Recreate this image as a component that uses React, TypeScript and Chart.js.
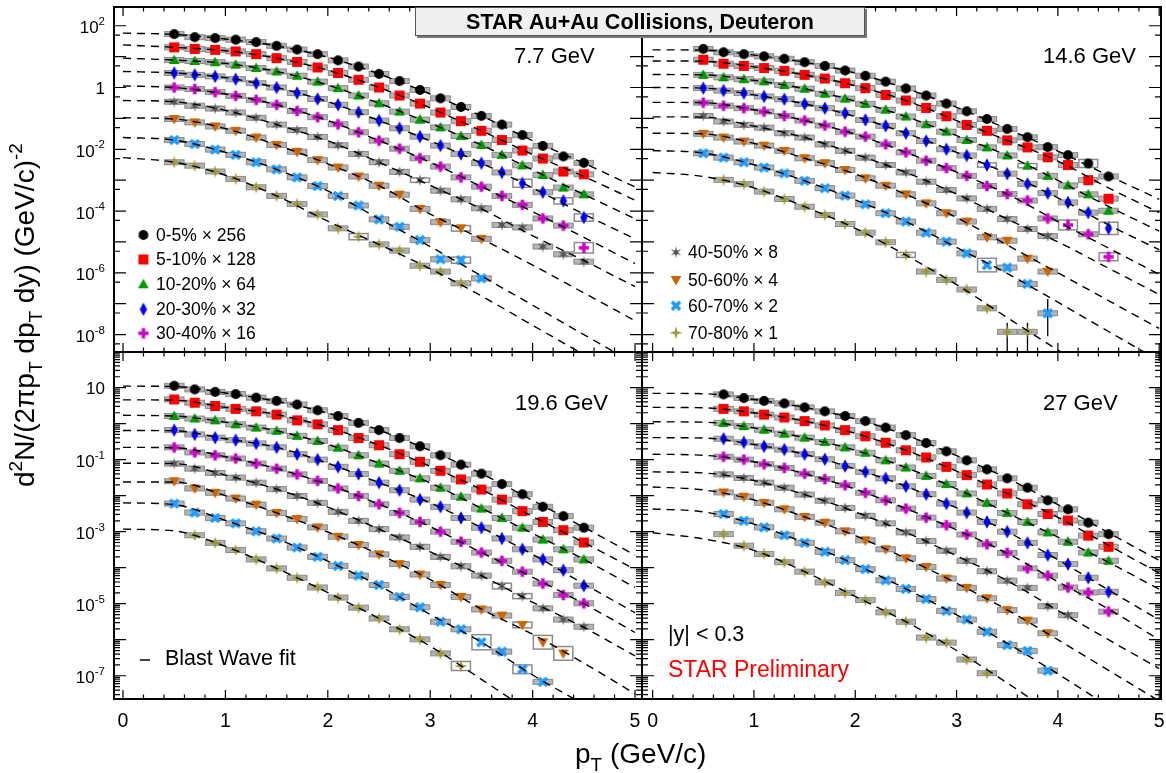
import React, { useEffect, useRef } from 'react';
import { Chart, registerables } from 'chart.js';

Chart.register(...registerables);

const FONT = '"Liberation Sans", Arial, Helvetica, sans-serif';

// pT bin centres (GeV/c)
const PT = [0.5, 0.7, 0.9, 1.1, 1.3, 1.5, 1.7, 1.9, 2.1, 2.3, 2.5, 2.7, 2.9, 3.1, 3.3, 3.5, 3.7, 3.9, 4.1, 4.3, 4.5];
// pT values at which the blast-wave curves were read
const FIT_PT = [0, 0.5, 1, 1.5, 2, 2.5, 3, 3.5, 4, 4.5, 5];

const CENTRALITY = ['0-5%', '5-10%', '10-20%', '20-30%', '30-40%', '40-50%', '50-60%', '60-70%', '70-80%'];
const FACTOR = [256, 128, 64, 32, 16, 8, 4, 2, 1];
const COLORS = ['#000000', '#ff0000', '#009900', '#0000ff', '#cc00cc', '#555555', '#cc6600', '#1e9bff', '#999933'];
const SHAPES = ['circle', 'square', 'triangle', 'diamond', 'cross', 'star6', 'triangleDown', 'crossX', 'star4'];

// Yields are stored as log10 of d2N/(2pi pT dpT dy).
// ---- 7.7 GeV ----
const FIRST_77 = [0.5, 0.5, 0.5, 0.5, 0.5, 0.5, 0.5, 0.5, 0.5];
const Y77_0 = [1.73, 1.63, 1.60, 1.55, 1.47, 1.35, 1.23, 1.08, 0.88, 0.68, 0.44, 0.21, -0.08, -0.35, -0.63, -0.92, -1.20, -1.54, -1.89, -2.23, -2.44];
const Y77_1 = [1.30, 1.25, 1.22, 1.17, 1.08, 0.95, 0.83, 0.65, 0.47, 0.25, 0.00, -0.26, -0.52, -0.81, -1.09, -1.40, -1.70, -2.04, -2.30, -2.72, -2.81];
const Y77_2 = [0.89, 0.86, 0.82, 0.74, 0.63, 0.52, 0.38, 0.19, -0.02, -0.26, -0.51, -0.78, -1.04, -1.29, -1.57, -1.86, -2.18, -2.52, -2.83, -3.24, -3.46];
const Y77_3 = [0.47, 0.41, 0.36, 0.27, 0.14, 0.00, -0.18, -0.37, -0.56, -0.80, -1.07, -1.32, -1.59, -1.88, -2.15, -2.45, -2.75, -3.10, -3.39, -3.67, -4.21];
const Y77_4 = [0.00, -0.05, -0.15, -0.27, -0.40, -0.56, -0.76, -0.96, -1.19, -1.45, -1.72, -1.98, -2.29, -2.56, -2.91, -3.21, -3.51, -3.80, -4.24, -4.47, -5.19];
const Y77_5 = [-0.46, -0.59, -0.68, -0.81, -0.98, -1.20, -1.38, -1.60, -1.87, -2.15, -2.42, -2.73, -3.00, -3.34, -3.62, -3.91, -4.45, -4.53, -5.15, -5.40, -5.64];
const Y77_6 = [-1.02, -1.13, -1.26, -1.40, -1.62, -1.86, -2.08, -2.35, -2.59, -2.88, -3.18, -3.47, -3.93, -4.36, -4.56, -4.90];
const Y77_7 = [-1.70, -1.83, -2.01, -2.18, -2.42, -2.65, -2.91, -3.19, -3.51, -3.82, -4.27, -4.51, -4.94, -5.56, -5.59, -6.18];
const Y77_8 = [-2.42, -2.53, -2.72, -2.96, -3.23, -3.51, -3.77, -4.11, -4.56, -4.83, -5.08, -5.28, -5.77, -5.96, -6.34];
const F77_0 = [1.76, 1.72, 1.57, 1.35, 0.98, 0.44, -0.21, -0.92, -1.72, -2.45, -3.22];
const F77_1 = [1.38, 1.30, 1.19, 0.95, 0.56, 0.00, -0.66, -1.40, -2.17, -2.88, -3.65];
const F77_2 = [0.95, 0.89, 0.78, 0.52, 0.08, -0.51, -1.16, -1.86, -2.67, -3.46, -4.25];
const F77_3 = [0.52, 0.47, 0.32, 0.00, -0.46, -1.07, -1.73, -2.45, -3.25, -4.10, -4.90];
const F77_4 = [0.05, 0.00, -0.21, -0.56, -1.07, -1.72, -2.42, -3.21, -4.02, -4.85, -5.70];
const F77_5 = [-0.42, -0.46, -0.74, -1.20, -1.73, -2.42, -3.17, -3.93, -4.80, -5.60, -6.45];
const F77_6 = [-0.98, -1.02, -1.33, -1.86, -2.47, -3.18, -4.10, -4.90, -5.75, -6.65, -7.55];
const F77_7 = [-1.62, -1.70, -2.10, -2.65, -3.35, -4.25, -5.15, -6.10, -7.05, -8.00, -8.95];
const F77_8 = [-2.27, -2.42, -2.84, -3.51, -4.33, -5.08, -5.87, -6.75, -7.70, -8.65, -9.60];
// enlarged systematic boxes (series index, pT, half-height in decades)
const SYS_77 = [[3, 3.9, 0.13], [3, 4.3, 0.1], [3, 4.5, 0.12], [4, 4.5, 0.17], [6, 3.3, 0.09], [7, 3.3, 0.1], [8, 2.3, 0.1], [5, 2.9, 0.07]];

// ---- 14.6 GeV ----
const FIRST_146 = [0.5, 0.5, 0.5, 0.5, 0.5, 0.5, 0.5, 0.5, 0.7];
const Y146_0 = [1.25, 1.14, 1.08, 1.01, 0.93, 0.82, 0.70, 0.55, 0.38, 0.19, -0.03, -0.26, -0.52, -0.77, -1.02, -1.34, -1.61, -1.93, -2.19, -2.46, -2.88];
const Y146_1 = [0.90, 0.77, 0.70, 0.63, 0.54, 0.41, 0.29, 0.14, -0.02, -0.24, -0.42, -0.66, -0.93, -1.21, -1.40, -1.71, -1.94, -2.26, -2.51, -3.00, -3.60];
const Y146_2 = [0.41, 0.33, 0.27, 0.20, 0.08, -0.04, -0.20, -0.36, -0.53, -0.72, -0.94, -1.19, -1.43, -1.70, -1.94, -2.20, -2.53, -2.86, -3.17, -3.46, -3.99];
const Y146_3 = [-0.02, -0.10, -0.18, -0.29, -0.38, -0.53, -0.67, -0.83, -1.05, -1.24, -1.48, -1.73, -2.00, -2.20, -2.51, -2.79, -3.12, -3.42, -3.72, -4.05, -4.56];
const Y146_4 = [-0.49, -0.59, -0.67, -0.78, -0.92, -1.07, -1.23, -1.43, -1.59, -1.84, -2.10, -2.37, -2.61, -2.86, -3.19, -3.45, -3.66, -4.24, -4.45, -4.75, -5.48];
const Y146_5 = [-0.92, -1.10, -1.21, -1.30, -1.48, -1.62, -1.84, -2.05, -2.27, -2.51, -2.75, -3.05, -3.32, -3.59, -3.93, -4.26, -4.58, -4.81];
const Y146_6 = [-1.50, -1.62, -1.75, -1.88, -2.05, -2.29, -2.45, -2.67, -2.94, -3.18, -3.46, -3.75, -4.07, -4.34, -4.85, -4.96, -5.54, -5.96];
const Y146_7 = [-2.13, -2.27, -2.42, -2.59, -2.78, -3.02, -3.26, -3.50, -3.78, -4.07, -4.34, -4.70, -4.99, -5.37, -5.75, -5.83, -6.36, -7.31];
const Y146_8 = [-2.99, -3.13, -3.37, -3.61, -3.86, -4.13, -4.42, -4.70, -5.01, -5.42, -5.96, -6.23, -6.54, -7.15, -7.91, -7.91];
const F146_0 = [1.22, 1.21, 1.05, 0.82, 0.47, -0.03, -0.64, -1.34, -2.06, -2.85, -3.62];
const F146_1 = [0.86, 0.85, 0.67, 0.41, 0.06, -0.42, -1.07, -1.71, -2.38, -3.25, -4.05];
const F146_2 = [0.42, 0.41, 0.23, -0.04, -0.44, -0.94, -1.56, -2.20, -3.01, -3.85, -4.65];
const F146_3 = [0.00, -0.02, -0.24, -0.53, -0.94, -1.48, -2.10, -2.79, -3.57, -4.45, -5.25];
const F146_4 = [-0.48, -0.49, -0.72, -1.07, -1.51, -2.10, -2.74, -3.45, -4.34, -5.20, -6.05];
const F146_5 = [-0.95, -0.96, -1.25, -1.62, -2.16, -2.75, -3.45, -4.26, -5.00, -5.85, -6.70];
const F146_6 = [-1.48, -1.50, -1.81, -2.29, -2.80, -3.46, -4.21, -5.10, -6.00, -6.90, -7.80];
const F146_7 = [-2.04, -2.12, -2.50, -3.02, -3.64, -4.34, -5.18, -6.02, -6.95, -7.90, -8.85];
const F146_8 = [-2.75, -2.88, -3.25, -3.86, -4.56, -5.43, -6.38, -7.45, -8.50, -9.50, -10.50];
// statistical error bars visible beyond the markers (series index, pT, log10 low, log10 high)
const ERR_146 = [
  [8, 3.5, -9.0, -7.62],
  [8, 3.7, -9.0, -7.62],
  [7, 3.9, -8.05, -6.85],
];
const SYS_146 = [[7, 3.3, 0.22], [0, 4.3, 0.13], [4, 4.1, 0.16], [3, 4.5, 0.2], [4, 4.5, 0.13], [8, 2.5, 0.08], [3, 3.3, 0.07], [2, 3.7, 0.07]];

// ---- 19.6 GeV ----
const FIRST_196 = [0.5, 0.5, 0.5, 0.5, 0.5, 0.5, 0.5, 0.5, 0.7];
const Y196_0 = [1.05, 0.95, 0.88, 0.82, 0.72, 0.63, 0.53, 0.37, 0.21, 0.02, -0.18, -0.40, -0.63, -0.88, -1.14, -1.39, -1.68, -1.96, -2.31, -2.57, -2.89];
const Y196_1 = [0.67, 0.58, 0.49, 0.41, 0.34, 0.25, 0.09, -0.02, -0.18, -0.40, -0.60, -0.85, -1.06, -1.31, -1.55, -1.83, -2.11, -2.43, -2.73, -2.96, -3.30];
const Y196_2 = [0.21, 0.14, 0.09, -0.02, -0.11, -0.20, -0.34, -0.48, -0.67, -0.88, -1.11, -1.31, -1.52, -1.78, -2.03, -2.36, -2.62, -2.89, -3.22, -3.49, -3.77];
const Y196_3 = [-0.18, -0.30, -0.39, -0.46, -0.55, -0.66, -0.85, -1.00, -1.20, -1.40, -1.64, -1.85, -2.11, -2.31, -2.62, -2.89, -3.19, -3.49, -3.77, -4.07, -4.50];
const Y196_4 = [-0.66, -0.80, -0.88, -0.97, -1.11, -1.25, -1.41, -1.59, -1.80, -2.01, -2.24, -2.48, -2.73, -3.00, -3.28, -3.58, -3.81, -4.11, -4.44, -4.76, -4.99];
const Y196_5 = [-1.11, -1.25, -1.37, -1.50, -1.64, -1.82, -2.01, -2.20, -2.45, -2.70, -2.93, -3.16, -3.42, -3.70, -3.96, -4.22, -4.51, -4.79, -5.13, -5.44, -5.64];
const Y196_6 = [-1.60, -1.80, -1.92, -2.08, -2.25, -2.48, -2.65, -2.88, -3.14, -3.37, -3.63, -3.90, -4.19, -4.48, -4.81, -5.16, -5.33, -5.59, -6.07, -6.38];
const Y196_7 = [-2.22, -2.47, -2.62, -2.77, -2.99, -3.19, -3.44, -3.70, -3.95, -4.22, -4.48, -4.81, -5.10, -5.50, -5.71, -6.07, -6.33, -6.82, -7.17];
const Y196_8 = [-3.10, -3.31, -3.51, -3.77, -4.02, -4.28, -4.55, -4.83, -5.11, -5.41, -5.71, -5.99, -6.38, -6.73];
const F196_0 = [1.04, 1.03, 0.85, 0.62, 0.29, -0.18, -0.75, -1.39, -2.13, -2.88, -3.65];
const F196_1 = [0.66, 0.65, 0.45, 0.25, -0.10, -0.60, -1.19, -1.83, -2.58, -3.30, -4.05];
const F196_2 = [0.23, 0.21, 0.04, -0.20, -0.58, -1.10, -1.65, -2.35, -3.05, -3.77, -4.55];
const F196_3 = [-0.19, -0.20, -0.42, -0.66, -1.10, -1.64, -2.20, -2.89, -3.63, -4.45, -5.25];
const F196_4 = [-0.66, -0.67, -0.92, -1.25, -1.69, -2.24, -2.86, -3.58, -4.27, -5.00, -5.80];
const F196_5 = [-1.10, -1.11, -1.43, -1.82, -2.32, -2.93, -3.56, -4.22, -4.96, -5.66, -6.45];
const F196_6 = [-1.62, -1.62, -2.00, -2.48, -3.01, -3.63, -4.33, -5.15, -5.85, -6.65, -7.50];
const F196_7 = [-2.20, -2.25, -2.69, -3.19, -3.82, -4.50, -5.30, -6.07, -6.98, -7.80, -8.65];
const F196_8 = [-2.93, -2.98, -3.41, -4.02, -4.69, -5.41, -6.18, -7.10, -8.05, -9.00, -9.90];
const SYS_196 = [[7, 3.5, 0.21], [6, 4.1, 0.19], [6, 4.3, 0.19], [8, 3.3, 0.125], [7, 3.9, 0.12], [5, 3.7, 0.08], [6, 3.9, 0.08], [5, 3.9, 0.07]];

// ---- 27 GeV ----
const FIRST_27 = [0.7, 0.7, 0.7, 0.7, 0.7, 0.7, 0.7, 0.7, 0.7];
const Y27_0 = [0.81, 0.71, 0.63, 0.56, 0.45, 0.34, 0.21, 0.07, -0.11, -0.32, -0.54, -0.77, -1.02, -1.27, -1.52, -1.78, -2.13, -2.38, -2.75, -3.07];
const Y27_1 = [0.41, 0.34, 0.25, 0.17, 0.07, -0.05, -0.18, -0.35, -0.53, -0.74, -0.94, -1.20, -1.43, -1.69, -1.94, -2.24, -2.51, -2.69, -3.11, -3.42];
const Y27_2 = [0.02, -0.07, -0.17, -0.28, -0.39, -0.51, -0.66, -0.81, -1.02, -1.22, -1.45, -1.68, -1.94, -2.20, -2.48, -2.73, -3.02, -3.28, -3.58, -3.81];
const Y27_3 = [-0.42, -0.52, -0.63, -0.72, -0.85, -0.99, -1.18, -1.34, -1.52, -1.74, -1.96, -2.22, -2.47, -2.73, -3.00, -3.31, -3.65, -3.90, -4.28, -4.67];
const Y27_4 = [-0.92, -1.00, -1.13, -1.23, -1.39, -1.54, -1.71, -1.92, -2.13, -2.36, -2.61, -2.82, -3.08, -3.35, -3.59, -4.02, -4.22, -4.55, -4.69, -5.22];
const Y27_5 = [-1.41, -1.51, -1.64, -1.78, -1.97, -2.14, -2.34, -2.56, -2.77, -3.02, -3.26, -3.53, -3.81, -4.10, -4.36, -4.56, -5.07, -5.32];
const Y27_6 = [-1.91, -2.03, -2.20, -2.38, -2.59, -2.75, -2.99, -3.24, -3.49, -3.74, -3.98, -4.30, -4.56, -4.85, -5.18, -5.47, -5.82];
const Y27_7 = [-2.51, -2.70, -2.88, -3.10, -3.31, -3.56, -3.79, -4.04, -4.35, -4.59, -4.87, -5.20, -5.44, -5.78, -6.15, -6.31, -6.86];
const Y27_8 = [-3.07, -3.39, -3.62, -3.85, -4.11, -4.41, -4.70, -4.90, -5.24, -5.50, -5.94, -6.08, -6.55, -6.93];
const F27_0 = [0.84, 0.83, 0.67, 0.45, 0.13, -0.32, -0.89, -1.52, -2.25, -3.03, -3.80];
const F27_1 = [0.45, 0.44, 0.30, 0.07, -0.27, -0.74, -1.32, -1.94, -2.60, -3.38, -4.15];
const F27_2 = [0.05, 0.04, -0.12, -0.39, -0.74, -1.22, -1.81, -2.48, -3.15, -3.85, -4.60];
const F27_3 = [-0.39, -0.40, -0.58, -0.85, -1.26, -1.74, -2.34, -3.00, -3.78, -4.62, -5.45];
const F27_4 = [-0.85, -0.88, -1.06, -1.39, -1.82, -2.36, -2.95, -3.60, -4.39, -5.15, -6.00];
const F27_5 = [-1.34, -1.37, -1.58, -1.97, -2.45, -3.02, -3.67, -4.36, -5.19, -6.00, -6.80];
const F27_6 = [-1.76, -1.84, -2.12, -2.59, -3.11, -3.74, -4.43, -5.17, -6.00, -6.85, -7.70];
const F27_7 = [-2.37, -2.45, -2.79, -3.31, -3.91, -4.59, -5.31, -6.10, -6.95, -7.85, -8.75];
const F27_8 = [-3.03, -3.20, -3.52, -4.11, -4.80, -5.50, -6.30, -7.20, -8.15, -9.10, -10.00];

const TOP_Y_LABELS = [2, 0, -2, -4, -6, -8];
const BOTTOM_Y_LABELS = [1, -1, -3, -5, -7];
const X_LABELS = [0, 1, 2, 3, 4, 5];

type Panel = {
  energy: string;
  data: number[][];
  fits: number[][];
  first: number[];
  errs: number[][];
  sys: number[][];
  l: number; t: number; r: number; b: number;
  xr: [number, number];
  yr: [number, number];
  minors: number[];
  yLabels: number[] | null;
  xLabels: boolean;
  ex: number; ey: number;
  kind: 'TL' | 'TR' | 'BL' | 'BR';
};

const PANELS: Panel[] = [
  {
    energy: '7.7 GeV', data: [Y77_0, Y77_1, Y77_2, Y77_3, Y77_4, Y77_5, Y77_6, Y77_7, Y77_8],
    fits: [F77_0, F77_1, F77_2, F77_3, F77_4, F77_5, F77_6, F77_7, F77_8], first: FIRST_77, errs: [], sys: SYS_77,
    l: 114, t: 7, r: 642, b: 352, xr: [-0.088, 5.068], yr: [-8.564, 2.607], minors: [5],
    yLabels: TOP_Y_LABELS, xLabels: false, ex: 514, ey: 63, kind: 'TL',
  },
  {
    energy: '14.6 GeV', data: [Y146_0, Y146_1, Y146_2, Y146_3, Y146_4, Y146_5, Y146_6, Y146_7, Y146_8],
    fits: [F146_0, F146_1, F146_2, F146_3, F146_4, F146_5, F146_6, F146_7, F146_8], first: FIRST_146, errs: ERR_146, sys: SYS_146,
    l: 642, t: 7, r: 1165, b: 352, xr: [-0.105, 5.018], yr: [-8.564, 2.607], minors: [5],
    yLabels: null, xLabels: false, ex: 1043, ey: 63, kind: 'TR',
  },
  {
    energy: '19.6 GeV', data: [Y196_0, Y196_1, Y196_2, Y196_3, Y196_4, Y196_5, Y196_6, Y196_7, Y196_8],
    fits: [F196_0, F196_1, F196_2, F196_3, F196_4, F196_5, F196_6, F196_7, F196_8], first: FIRST_196, errs: [], sys: SYS_196,
    l: 114, t: 352, r: 642, b: 699, xr: [-0.088, 5.068], yr: [-7.646, 1.988], minors: [2, 3, 4, 5, 6, 7, 8, 9],
    yLabels: BOTTOM_Y_LABELS, xLabels: true, ex: 515, ey: 410, kind: 'BL',
  },
  {
    energy: '27 GeV', data: [Y27_0, Y27_1, Y27_2, Y27_3, Y27_4, Y27_5, Y27_6, Y27_7, Y27_8],
    fits: [F27_0, F27_1, F27_2, F27_3, F27_4, F27_5, F27_6, F27_7, F27_8], first: FIRST_27, errs: [], sys: [],
    l: 642, t: 352, r: 1165, b: 699, xr: [-0.105, 5.018], yr: [-7.646, 1.988], minors: [2, 3, 4, 5, 6, 7, 8, 9],
    yLabels: null, xLabels: true, ex: 1043, ey: 410, kind: 'BR',
  },
];

function makeMarker(shape: string, color: string): HTMLCanvasElement {
  const S = 16;
  const c = document.createElement('canvas');
  c.width = S; c.height = S;
  const g = c.getContext('2d') as CanvasRenderingContext2D;
  const m = S / 2;
  g.fillStyle = color;
  g.beginPath();
  if (shape === 'circle') {
    g.arc(m, m, 4.9, 0, Math.PI * 2);
  } else if (shape === 'square') {
    g.rect(m - 5, m - 5, 10, 10);
  } else if (shape === 'triangle') {
    g.moveTo(m, m - 5.5); g.lineTo(m + 5.4, m + 4.1); g.lineTo(m - 5.4, m + 4.1); g.closePath();
  } else if (shape === 'triangleDown') {
    g.moveTo(m, m + 5.5); g.lineTo(m + 5.4, m - 4.1); g.lineTo(m - 5.4, m - 4.1); g.closePath();
  } else if (shape === 'diamond') {
    g.moveTo(m, m - 6.8); g.lineTo(m + 3.7, m); g.lineTo(m, m + 6.8); g.lineTo(m - 3.7, m); g.closePath();
  } else if (shape === 'cross') {
    g.rect(m - 5.2, m - 1.7, 10.4, 3.4); g.rect(m - 1.7, m - 5.2, 3.4, 10.4);
  } else if (shape === 'crossX') {
    g.translate(m, m); g.rotate(Math.PI / 4);
    g.rect(-5.8, -1.8, 11.6, 3.6); g.rect(-1.8, -5.8, 3.6, 11.6);
  } else if (shape === 'star4') {
    for (let k = 0; k < 8; k++) {
      const a = (k * Math.PI) / 4 - Math.PI / 2;
      const rr = k % 2 === 0 ? 6.6 : 2.0;
      const px = m + rr * Math.cos(a), py = m + rr * Math.sin(a);
      if (k === 0) g.moveTo(px, py); else g.lineTo(px, py);
    }
    g.closePath();
  } else if (shape === 'star6') {
    for (let k = 0; k < 12; k++) {
      const a = (k * Math.PI) / 6 - Math.PI / 2;
      const rr = k % 2 === 0 ? 6.0 : 1.9;
      const px = m + rr * Math.cos(a), py = m + rr * Math.sin(a);
      if (k === 0) g.moveTo(px, py); else g.lineTo(px, py);
    }
    g.closePath();
  }
  g.fill('nonzero');
  return c;
}

type Seg = { t: string; sup?: boolean; sub?: boolean };
function drawRich(ctx: CanvasRenderingContext2D, segs: Seg[], x: number, y: number, size: number) {
  let cx = x;
  ctx.textAlign = 'left';
  ctx.textBaseline = 'alphabetic';
  for (const s of segs) {
    const small = s.sup || s.sub;
    const fs = small ? Math.round(size * 0.68) : size;
    ctx.font = `${fs}px ${FONT}`;
    const dy = s.sup ? -size * 0.42 : s.sub ? size * 0.28 : 0;
    ctx.fillText(s.t, cx, y + dy);
    cx += ctx.measureText(s.t).width;
  }
  return cx - x;
}

function sysBarsPlugin(p: Panel) {
  return {
    id: 'sysBars',
    beforeDatasetsDraw(chart: any) {
      const ctx: CanvasRenderingContext2D = chart.ctx;
      const xs = chart.scales.x, ys = chart.scales.y, a = chart.chartArea;
      ctx.save();
      ctx.beginPath();
      ctx.rect(a.left, a.top, a.right - a.left, a.bottom - a.top);
      ctx.clip();
      chart.data.datasets.forEach((ds: any) => {
        if (!ds.isData) return;
        ds.data.forEach((pt: any) => {
          const x1 = xs.getPixelForValue(pt.x - 0.1);
          const x2 = xs.getPixelForValue(pt.x + 0.1);
          const y = ys.getPixelForValue(pt.y);
          const big = p.sys.find((s) => s[0] === ds.seriesIndex && Math.abs(s[1] - pt.x) < 1e-6);
          if (big) {
            const lv = Math.log10(pt.y);
            const yTop = ys.getPixelForValue(Math.pow(10, lv + big[2]));
            const yBot = ys.getPixelForValue(Math.pow(10, lv - big[2]));
            ctx.strokeStyle = '#8c8c8c';
            ctx.lineWidth = 1.5;
            ctx.strokeRect(x1 + 0.75, yTop, x2 - x1 - 1.5, yBot - yTop);
            return;
          }
          ctx.fillStyle = '#b4b4b4';
          ctx.fillRect(x1, y - 2.5, x2 - x1, 5);
          ctx.strokeStyle = '#8c8c8c';
          ctx.lineWidth = 1;
          ctx.strokeRect(x1 + 0.5, y - 2.5, x2 - x1 - 1, 5);
        });
      });
      // vertical error bars that stick out of the markers
      ctx.strokeStyle = '#000';
      ctx.lineWidth = 1.3;
      ctx.beginPath();
      for (const e of p.errs) {
        const px = xs.getPixelForValue(e[1]);
        ctx.moveTo(px, ys.getPixelForValue(Math.pow(10, e[2])));
        ctx.lineTo(px, ys.getPixelForValue(Math.pow(10, e[3])));
      }
      ctx.stroke();
      ctx.restore();
    },
  };
}

function framePlugin(p: Panel, markers: HTMLCanvasElement[]) {
  return {
    id: 'rootFrame',
    afterDatasetsDraw(chart: any) {
      const ctx: CanvasRenderingContext2D = chart.ctx;
      const xs = chart.scales.x, ys = chart.scales.y, a = chart.chartArea;
      ctx.save();
      ctx.strokeStyle = '#000';
      ctx.lineWidth = 1.2;
      ctx.beginPath();
      for (let i = 0; i <= 25; i++) {
        const v = i * 0.2;
        if (v > p.xr[1]) break;
        const px = xs.getPixelForValue(v);
        const L = i % 5 === 0 ? 9 : 4.5;
        ctx.moveTo(px, a.bottom); ctx.lineTo(px, a.bottom - L);
        ctx.moveTo(px, a.top); ctx.lineTo(px, a.top + L);
      }
      for (let e = Math.floor(p.yr[0]); e <= Math.ceil(p.yr[1]); e++) {
        if (e >= p.yr[0] && e <= p.yr[1]) {
          const py = ys.getPixelForValue(Math.pow(10, e));
          ctx.moveTo(a.left, py); ctx.lineTo(a.left + 12, py);
          ctx.moveTo(a.right, py); ctx.lineTo(a.right - 12, py);
        }
        for (const mm of p.minors) {
          const lv = e + Math.log10(mm);
          if (lv < p.yr[0] || lv > p.yr[1]) continue;
          const py = ys.getPixelForValue(Math.pow(10, lv));
          ctx.moveTo(a.left, py); ctx.lineTo(a.left + 6, py);
          ctx.moveTo(a.right, py); ctx.lineTo(a.right - 6, py);
        }
      }
      ctx.stroke();
      ctx.lineWidth = 2;
      ctx.strokeRect(a.left, a.top, a.right - a.left, a.bottom - a.top);

      ctx.fillStyle = '#000';
      if (p.yLabels) {
        for (const e of p.yLabels) {
          const py = ys.getPixelForValue(Math.pow(10, e));
          const xr = 105;
          ctx.textAlign = 'right';
          ctx.textBaseline = 'alphabetic';
          if (e === 0 || e === 1) {
            ctx.font = `17px ${FONT}`;
            ctx.fillText(e === 0 ? '1' : '10', xr, py + 6.5);
          } else {
            const sup = String(e);
            ctx.font = `11.5px ${FONT}`;
            const w = ctx.measureText(sup).width;
            ctx.fillText(sup, xr, py - 1);
            ctx.font = `17px ${FONT}`;
            ctx.fillText('10', xr - w, py + 7.5);
          }
        }
      }
      if (p.xLabels) {
        ctx.font = `19.5px ${FONT}`;
        ctx.textAlign = 'center';
        ctx.textBaseline = 'alphabetic';
        for (const v of X_LABELS) {
          ctx.fillText(String(v), xs.getPixelForValue(v), 727);
        }
      }
      // energy label
      ctx.font = `22px ${FONT}`;
      ctx.textAlign = 'left';
      ctx.textBaseline = 'alphabetic';
      ctx.fillText(p.energy, p.ex, p.ey);

      // legends
      const legendRow = (i: number, mx: number, tx: number, y: number) => {
        const mk = markers[i];
        ctx.drawImage(mk, mx - mk.width / 2, y - mk.height / 2);
        ctx.fillStyle = '#000';
        ctx.font = `17.5px ${FONT}`;
        ctx.textAlign = 'left';
        ctx.textBaseline = 'middle';
        ctx.fillText(`${CENTRALITY[i]} \u00d7 ${FACTOR[i]}`, tx, y + 1);
      };
      if (p.kind === 'TL') {
        const rows = [235, 259.5, 284.3, 309.3, 333.3];
        rows.forEach((y, i) => legendRow(i, 143.4, 156, y));
      }
      if (p.kind === 'TR') {
        const rows = [252.3, 280, 305.7, 332.7];
        rows.forEach((y, i) => legendRow(i + 5, 676, 688, y));
      }
      if (p.kind === 'BL') {
        ctx.strokeStyle = '#000';
        ctx.lineWidth = 1.5;
        ctx.beginPath(); ctx.moveTo(140, 660); ctx.lineTo(150, 660); ctx.stroke();
        ctx.font = `21.5px ${FONT}`;
        ctx.textAlign = 'left';
        ctx.textBaseline = 'alphabetic';
        ctx.fillText('Blast Wave fit', 165, 665);
      }
      if (p.kind === 'BR') {
        ctx.textAlign = 'left';
        ctx.textBaseline = 'alphabetic';
        ctx.font = `21.5px ${FONT}`;
        ctx.fillStyle = '#000';
        ctx.fillText('|y| < 0.3', 668, 641);
        ctx.font = `23px ${FONT}`;
        ctx.fillStyle = '#ff0000';
        ctx.fillText('STAR Preliminary', 668, 677);

        // global title box
        ctx.fillStyle = '#7a7a7a';
        ctx.fillRect(417, 9, 450, 29);
        ctx.fillStyle = '#f0f0f0';
        ctx.fillRect(415, 7, 450, 29);
        ctx.strokeStyle = '#555';
        ctx.lineWidth = 1;
        ctx.strokeRect(415.5, 7.5, 449, 28);
        ctx.fillStyle = '#000';
        ctx.font = `bold 21.5px ${FONT}`;
        ctx.textAlign = 'center';
        ctx.fillText('STAR Au+Au Collisions, Deuteron', 640, 29);

        // axis titles
        ctx.fillStyle = '#000';
        drawRich(ctx, [{ t: 'p' }, { t: 'T', sub: true }, { t: ' (GeV/c)' }], 575, 763, 28);
        ctx.save();
        ctx.translate(34, 487);
        ctx.rotate(-Math.PI / 2);
        drawRich(ctx, [
          { t: 'd' }, { t: '2', sup: true }, { t: 'N/(2\u03c0p' }, { t: 'T', sub: true },
          { t: ' dp' }, { t: 'T', sub: true }, { t: ' dy) (GeV/c)' }, { t: '-2', sup: true },
        ], 0, 0, 28);
        ctx.restore();
      }
      ctx.restore();
    },
  };
}

function buildConfig(p: Panel, markers: HTMLCanvasElement[]): any {
  const datasets: any[] = [];
  for (let i = 0; i < 9; i++) {
    const start = PT.indexOf(p.first[i]);
    datasets.push({
      type: 'scatter',
      label: CENTRALITY[i],
      isData: true,
      seriesIndex: i,
      data: p.data[i].map((v, k) => ({ x: PT[start + k], y: Math.pow(10, v) })),
      pointStyle: markers[i],
      pointRadius: 4,
      pointHoverRadius: 4,
      order: 2,
    });
    datasets.push({
      type: 'line',
      label: 'Blast Wave fit',
      data: FIT_PT.map((x, k) => ({ x, y: Math.pow(10, p.fits[i][k]) })),
      borderColor: '#000',
      borderWidth: 1.4,
      borderDash: [8, 6],
      pointRadius: 0,
      fill: false,
      cubicInterpolationMode: 'monotone',
      order: 1,
    });
  }
  return {
    type: 'scatter',
    data: { datasets },
    options: {
      responsive: false,
      animation: false,
      events: [],
      devicePixelRatio: 1,
      layout: { padding: { left: p.l, top: p.t, right: 1166 - p.r, bottom: 773 - p.b } },
      scales: {
        x: { type: 'linear', min: p.xr[0], max: p.xr[1], display: false },
        y: { type: 'logarithmic', min: Math.pow(10, p.yr[0]), max: Math.pow(10, p.yr[1]), display: false },
      },
      plugins: { legend: { display: false }, tooltip: { enabled: false }, title: { display: false } },
    },
    plugins: [sysBarsPlugin(p), framePlugin(p, markers)],
  };
}

export default function App() {
  const r0 = useRef<HTMLCanvasElement>(null);
  const r1 = useRef<HTMLCanvasElement>(null);
  const r2 = useRef<HTMLCanvasElement>(null);
  const r3 = useRef<HTMLCanvasElement>(null);
  const refs = [r0, r1, r2, r3];

  useEffect(() => {
    const markers = SHAPES.map((s, i) => makeMarker(s, COLORS[i]));
    const charts = PANELS.map((p, i) => new Chart(refs[i].current as HTMLCanvasElement, buildConfig(p, markers)));
    return () => charts.forEach((c) => c.destroy());
  }, []);

  return (
    <div style={{ position: 'absolute', left: 0, top: 0, width: 1166, height: 773, background: '#fff', overflow: 'hidden' }}>
      {refs.map((r, i) => (
        <canvas
          key={i}
          ref={r}
          width={1166}
          height={773}
          style={{ position: 'absolute', left: 0, top: 0, width: 1166, height: 773 }}
        />
      ))}
    </div>
  );
}
